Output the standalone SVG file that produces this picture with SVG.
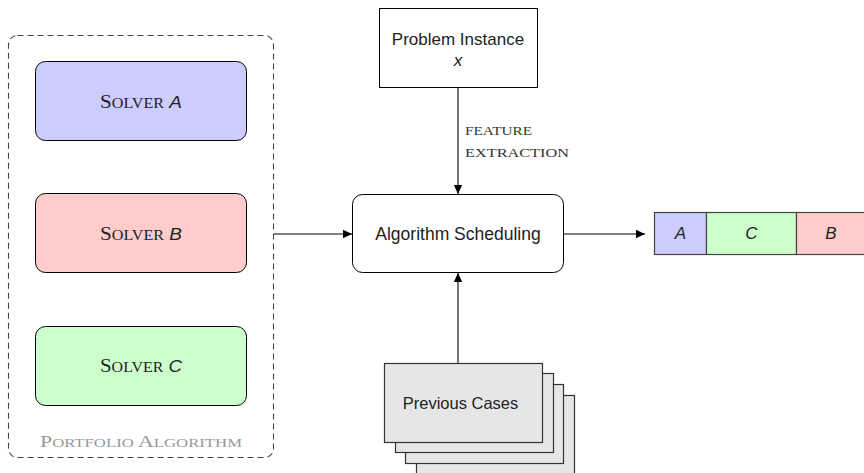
<svg xmlns="http://www.w3.org/2000/svg" width="864" height="473" viewBox="0 0 864 473">
<defs>
<marker id="arr" markerWidth="10" markerHeight="10" refX="9" refY="5" orient="auto" markerUnits="userSpaceOnUse">
<path d="M0,0.8 L9,5 L0,9.2 Z" fill="#000"/>
</marker>
</defs>
<style>
.box{stroke:#000;stroke-width:1;}
.sans{font-family:"Liberation Sans","DejaVu Sans",sans-serif;font-size:17px;fill:#222;}
.sc{font-family:"Liberation Serif","DejaVu Serif",serif;font-size:19px;fill:#222;}
.sm{font-size:14.5px;}
.it{font-family:"Liberation Sans","DejaVu Sans",sans-serif;font-style:italic;font-size:17px;}
.lbl{font-family:"Liberation Serif","DejaVu Serif",serif;font-size:13px;fill:#333;}
.conn{stroke:#000;stroke-width:1.1;fill:none;}
.stack{fill:#e6e6e6;stroke:#333;stroke-width:1.2;}
</style>
<rect width="864" height="473" fill="#fff"/>
<g id="portfolio">
<rect x="8.5" y="35.5" width="265" height="422" rx="9" fill="none" stroke="#444" stroke-width="1.1" stroke-dasharray="6,4"/>
<text x="40" y="447" class="sc" style="fill:#999;font-size:17px" textLength="202" lengthAdjust="spacingAndGlyphs">P<tspan style="font-size:13px">ORTFOLIO</tspan> A<tspan style="font-size:13px">LGORITHM</tspan></text>
</g>
<g id="solverA">
<rect class="box" x="35.5" y="61.5" width="211" height="79" rx="10" fill="#ccccff"/>
<text x="100" y="108" class="sc" textLength="82" lengthAdjust="spacingAndGlyphs">S<tspan class="sm">OLVER</tspan> <tspan class="it">A</tspan></text>
</g>
<g id="solverB">
<rect class="box" x="35.5" y="193.5" width="211" height="79" rx="10" fill="#ffcccc"/>
<text x="100" y="240" class="sc" textLength="82" lengthAdjust="spacingAndGlyphs">S<tspan class="sm">OLVER</tspan> <tspan class="it">B</tspan></text>
</g>
<g id="solverC">
<rect class="box" x="35.5" y="326.5" width="211" height="79" rx="10" fill="#ccffcc"/>
<text x="100" y="372" class="sc" textLength="82" lengthAdjust="spacingAndGlyphs">S<tspan class="sm">OLVER</tspan> <tspan class="it">C</tspan></text>
</g>
<g id="problem">
<rect class="box" x="379.5" y="8.5" width="158" height="79" fill="#fff"/>
<text x="458" y="45" text-anchor="middle" class="sans">Problem Instance</text>
<text x="458" y="66" text-anchor="middle" class="sans it">x</text>
</g>
<g id="scheduling">
<rect class="box" x="352.5" y="194.5" width="211" height="78" rx="10" fill="#fff"/>
<text x="458" y="240" text-anchor="middle" class="sans" style="font-size:17.5px">Algorithm Scheduling</text>
</g>
<g id="previous">
<rect class="stack" x="416.5" y="395.5" width="158" height="79"/>
<rect class="stack" x="405.5" y="384.5" width="158" height="79"/>
<rect class="stack" x="395.5" y="373.5" width="158" height="79"/>
<rect class="stack" x="384.5" y="363.5" width="158" height="79"/>
<text x="460.5" y="409" text-anchor="middle" class="sans" style="font-size:16.5px">Previous Cases</text>
</g>
<g id="result">
<rect x="654.5" y="212.5" width="52" height="42" fill="#ccccff" stroke="#444" stroke-width="1.2"/>
<rect x="706.5" y="212.5" width="90" height="42" fill="#ccffcc" stroke="#444" stroke-width="1.2"/>
<rect x="796.5" y="212.5" width="70" height="42" fill="#ffcccc" stroke="#444" stroke-width="1.2"/>
<text x="680.5" y="239" text-anchor="middle" class="sans it">A</text>
<text x="751.5" y="239" text-anchor="middle" class="sans it">C</text>
<text x="831" y="239" text-anchor="middle" class="sans it">B</text>
</g>
<g id="connectors">
<line class="conn" x1="458" y1="87.5" x2="458" y2="194" marker-end="url(#arr)"/>
<line class="conn" x1="458" y1="363" x2="458" y2="273" marker-end="url(#arr)"/>
<line class="conn" x1="274" y1="234" x2="352" y2="234" marker-end="url(#arr)"/>
<line class="conn" x1="564" y1="234" x2="645" y2="234" marker-end="url(#arr)"/>
<text x="465" y="135" class="lbl" textLength="67" lengthAdjust="spacingAndGlyphs">FEATURE</text>
<text x="465" y="157" class="lbl" textLength="104" lengthAdjust="spacingAndGlyphs">EXTRACTION</text>
</g>
</svg>
